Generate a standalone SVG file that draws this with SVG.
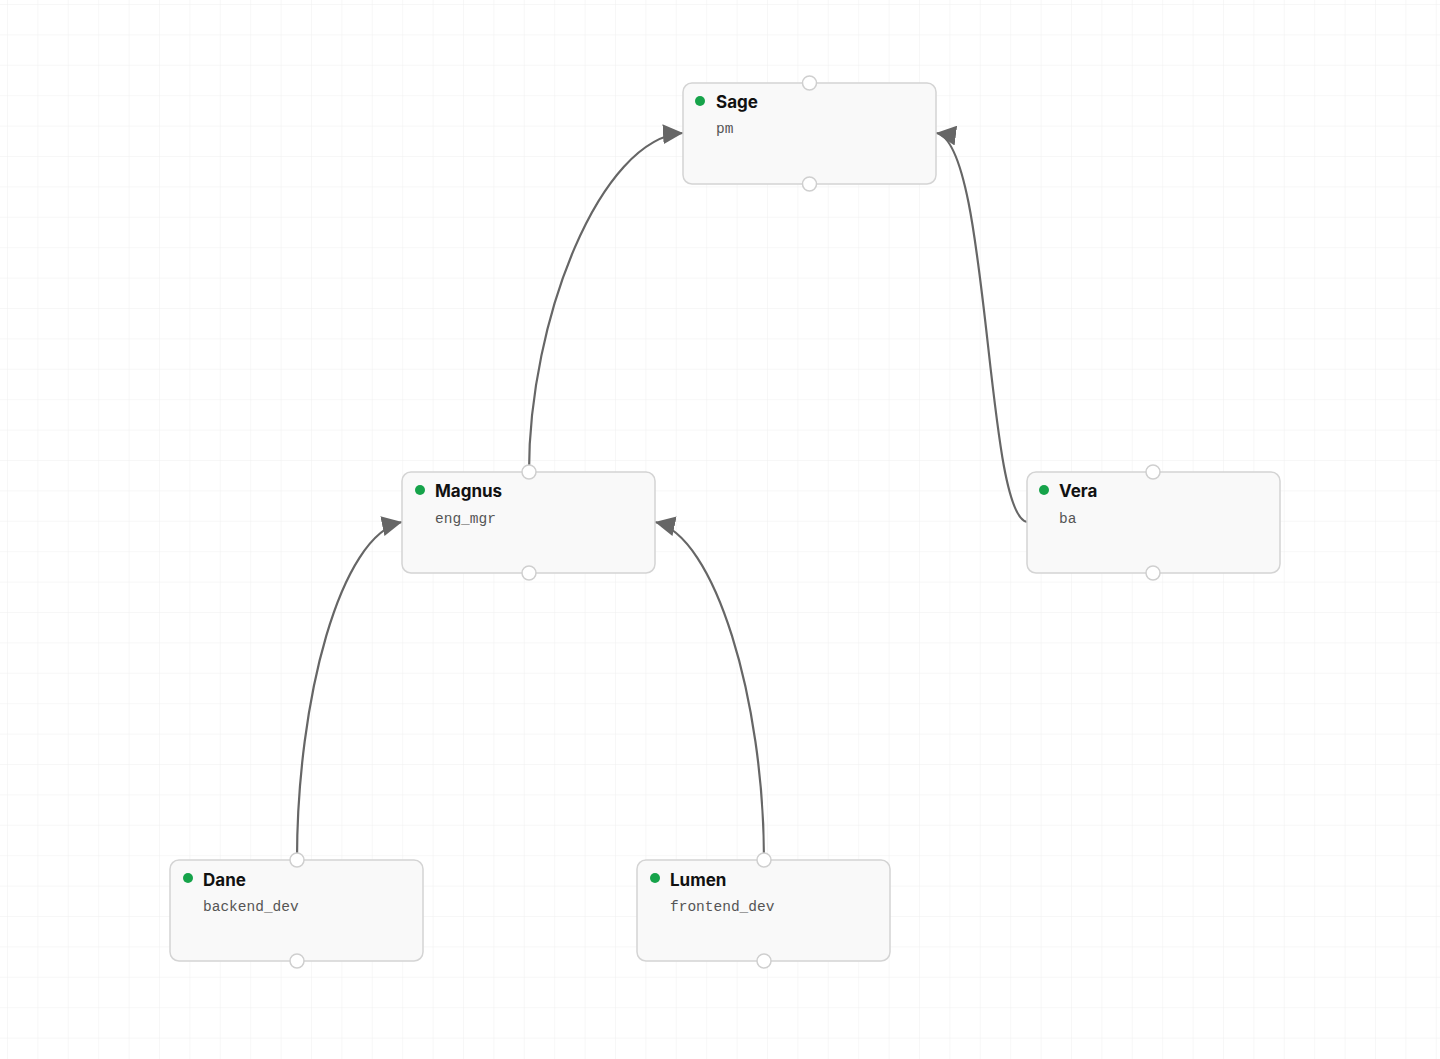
<svg xmlns="http://www.w3.org/2000/svg" width="1440" height="1059" viewBox="0 0 1440 1059">
<defs>
<pattern id="grid" x="7" y="4" width="30.4" height="30.4" patternUnits="userSpaceOnUse">
<path d="M0 0H30.4M0 0V30.4" fill="none" stroke="#efefef" stroke-width="1"/>
</pattern>
<marker id="arr" viewBox="0 0 10 10" refX="10" refY="5" markerWidth="20" markerHeight="20" markerUnits="userSpaceOnUse" orient="auto">
<path d="M0 0L10 5L0 10z" fill="#666"/>
</marker>
<style>
.box{fill:#f9f9f9;stroke:#d4d4d4;stroke-width:1.5}
.port{fill:#fff;stroke:#cfcfcf;stroke-width:1.5}
.dot{fill:#16a34a}
.name{font-family:Inter,"Liberation Sans",sans-serif;font-weight:700;font-size:17px;fill:#111}
.role{font-family:"Liberation Mono",monospace;font-size:14.5px;fill:#555}
.edge{fill:none;stroke:#666;stroke-width:2.2;marker-end:url(#arr)}
</style>
</defs>
<rect width="1440" height="1059" fill="#fff"/>
<rect width="1440" height="1059" fill="url(#grid)"/>
<g id="connectors">
<path class="edge" d="M529,472 C529,320 600,138 683,133"/>
<path class="edge" d="M1027,522 C985,515 990,140 936,133"/>
<path class="edge" d="M297,860 C297,700 340,535 402,522"/>
<path class="edge" d="M764,860 C764,700 715,535 655,522"/>
</g>
<g id="sage">
<rect class="box" x="683" y="83" width="253" height="101" rx="9"/>
<circle class="dot" cx="700" cy="101" r="5"/>
<text class="name" x="716" y="108">Sage</text>
<text class="role" x="716" y="133">pm</text>
<circle class="port" cx="809.5" cy="83" r="7"/>
<circle class="port" cx="809.5" cy="184" r="7"/>
</g>
<g id="magnus">
<rect class="box" x="402" y="472" width="253" height="101" rx="9"/>
<circle class="dot" cx="420" cy="490" r="5"/>
<text class="name" x="435" y="497">Magnus</text>
<text class="role" x="435" y="523">eng_mgr</text>
<circle class="port" cx="529" cy="472" r="7"/>
<circle class="port" cx="529" cy="573" r="7"/>
</g>
<g id="vera">
<rect class="box" x="1027" y="472" width="253" height="101" rx="9"/>
<circle class="dot" cx="1044" cy="490" r="5"/>
<text class="name" x="1059" y="497">Vera</text>
<text class="role" x="1059" y="523">ba</text>
<circle class="port" cx="1153" cy="472" r="7"/>
<circle class="port" cx="1153" cy="573" r="7"/>
</g>
<g id="dane">
<rect class="box" x="170" y="860" width="253" height="101" rx="9"/>
<circle class="dot" cx="188" cy="878" r="5"/>
<text class="name" x="203" y="886">Dane</text>
<text class="role" x="203" y="911">backend_dev</text>
<circle class="port" cx="297" cy="860" r="7"/>
<circle class="port" cx="297" cy="961" r="7"/>
</g>
<g id="lumen">
<rect class="box" x="637" y="860" width="253" height="101" rx="9"/>
<circle class="dot" cx="655" cy="878" r="5"/>
<text class="name" x="670" y="886">Lumen</text>
<text class="role" x="670" y="911">frontend_dev</text>
<circle class="port" cx="764" cy="860" r="7"/>
<circle class="port" cx="764" cy="961" r="7"/>
</g>
</svg>
